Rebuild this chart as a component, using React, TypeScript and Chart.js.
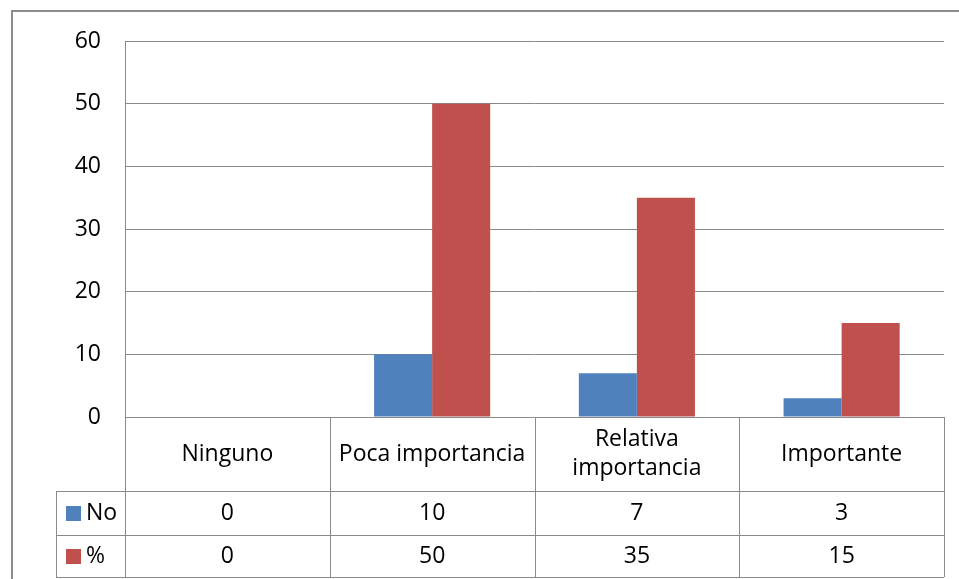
import React, { useEffect, useRef } from "react";
import { Chart, registerables } from "chart.js";

Chart.register(...registerables);

const categories: string[][] = [["Ninguno"], ["Poca importancia"], ["Relativa", "importancia"], ["Importante"]];
const seriesNames = ["No", "%"];
const valuesNo = [0, 10, 7, 3];
const valuesPct = [0, 50, 35, 15];
const yTicks = [0, 10, 20, 30, 40, 50, 60];

const BLUE = "#4F81BD";
const RED = "#C0504D";
const LINE = "#8a8a8a";
const FONT = "'Open Sans', 'Noto Sans', sans-serif";
const FONT_SIZE = 23;

const dataTablePlugin = {
  id: "dataTable",
  afterDraw(chart: any) {
    const ctx = chart.ctx as CanvasRenderingContext2D;
    const area = chart.chartArea;
    const x = chart.scales.x;
    const n = categories.length;
    const colW = (area.right - area.left) / n;
    const headerBottom = area.bottom + 74;
    const row1Bottom = headerBottom + 44;
    const row2Bottom = row1Bottom + 42;
    const legendLeft = 56;

    ctx.save();
    // outer frame
    ctx.strokeStyle = "#8c8c8c";
    ctx.lineWidth = 2;
    ctx.beginPath();
    ctx.moveTo(12, chart.height);
    ctx.lineTo(12, 11);
    ctx.lineTo(chart.width, 11);
    ctx.stroke();

    ctx.strokeStyle = LINE;
    ctx.lineWidth = 1;
    const h = (y: number, x0: number, x1: number) => {
      ctx.beginPath();
      ctx.moveTo(x0, Math.round(y) + 0.5);
      ctx.lineTo(x1, Math.round(y) + 0.5);
      ctx.stroke();
    };
    const v = (xx: number, y0: number, y1: number) => {
      ctx.beginPath();
      ctx.moveTo(Math.round(xx) + 0.5, y0);
      ctx.lineTo(Math.round(xx) + 0.5, y1);
      ctx.stroke();
    };
    h(headerBottom, legendLeft, area.right);
    h(row1Bottom, legendLeft, area.right);
    h(row2Bottom, legendLeft, area.right);
    v(legendLeft, headerBottom, row2Bottom);
    v(area.left, area.top, row2Bottom);
    for (let i = 1; i <= n; i++) v(area.left + colW * i, area.bottom, row2Bottom);

    ctx.fillStyle = "#000";
    ctx.font = `${FONT_SIZE}px ${FONT}`;
    ctx.textAlign = "center";
    ctx.textBaseline = "middle";
    const headerMid = (area.bottom + headerBottom) / 2;
    categories.forEach((lines, i) => {
      const cx = x.getPixelForValue(i);
      const lh = 29;
      lines.forEach((t, j) => {
        ctx.fillText(t, cx, headerMid + (j - (lines.length - 1) / 2) * lh);
      });
    });
    const rows = [valuesNo, valuesPct];
    const colors = [BLUE, RED];
    const rowMids = [(headerBottom + row1Bottom) / 2, (row1Bottom + row2Bottom) / 2];
    rows.forEach((vals, r) => {
      ctx.textAlign = "center";
      ctx.fillStyle = "#000";
      vals.forEach((val, i) => ctx.fillText(String(val), x.getPixelForValue(i), rowMids[r]));
      ctx.fillStyle = colors[r];
      ctx.fillRect(66, Math.round(rowMids[r]) - 7, 15, 15);
      ctx.fillStyle = "#000";
      ctx.textAlign = "left";
      ctx.fillText(seriesNames[r], 86, rowMids[r]);
    });
    ctx.restore();
  },
};

export default function App() {
  const ref = useRef<HTMLCanvasElement>(null);
  useEffect(() => {
    const chart = new Chart(ref.current!, {
      type: "bar",
      data: {
        labels: categories.map((c) => c.join(" ")),
        datasets: [
          { label: seriesNames[0], data: valuesNo, backgroundColor: BLUE },
          { label: seriesNames[1], data: valuesPct, backgroundColor: RED },
        ],
      },
      options: {
        animation: false,
        responsive: false,
        layout: { padding: { left: 0, right: 15, top: 41, bottom: 162 } },
        plugins: { legend: { display: false }, tooltip: { enabled: false } },
        datasets: { bar: { barPercentage: 1, categoryPercentage: 0.567 } },
        scales: {
          x: { display: false },
          y: {
            min: 0,
            max: 60,
            afterBuildTicks: (s: any) => {
              s.ticks = yTicks.map((t) => ({ value: t }));
            },
            afterFit: (s: any) => {
              s.width = 125;
            },
            border: { display: false },
            grid: { color: LINE, drawTicks: false, lineWidth: 1 },
            ticks: {
              color: "#000",
              padding: 24,
              font: { family: FONT, size: FONT_SIZE },
            },
          },
        },
      },
      plugins: [dataTablePlugin],
    });
    return () => chart.destroy();
  }, []);
  return (
    <div style={{ position: "fixed", left: 0, top: 0, width: 959, height: 579, background: "#fff" }}>
      <canvas ref={ref} width={959} height={579} />
    </div>
  );
}
